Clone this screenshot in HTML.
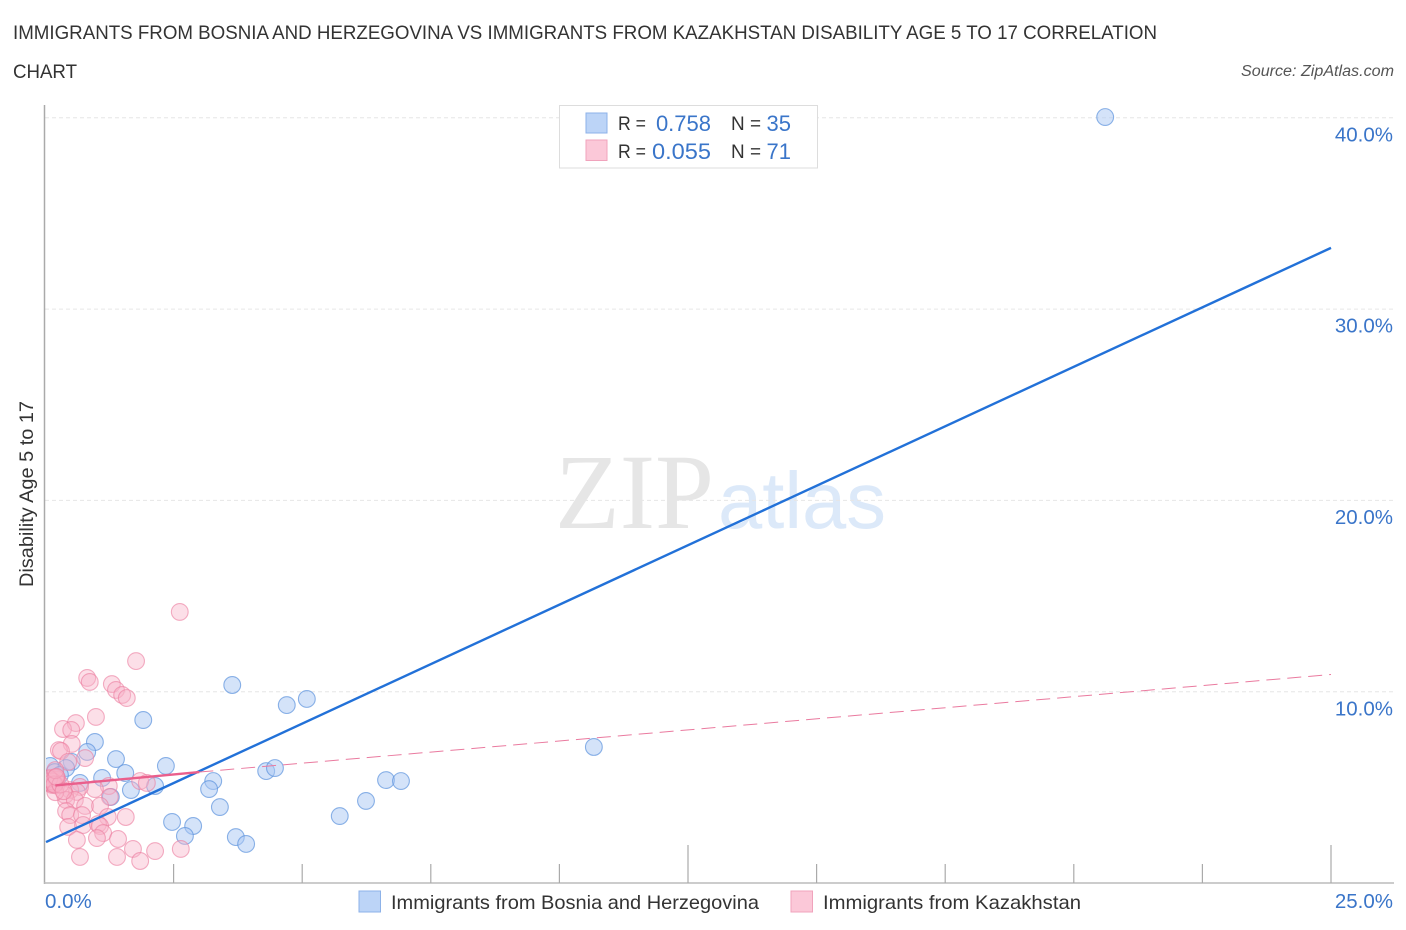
<!DOCTYPE html>
<html lang="en">
<head>
<meta charset="utf-8">
<title>Disability Age 5 to 17 Correlation Chart</title>
<style>
html,body{margin:0;padding:0;background:#fff;}
svg{display:block;font-family:"Liberation Sans",sans-serif;}
</style>
</head>
<body>
<svg id="chart" width="1406" height="930" viewBox="0 0 1406 930" xmlns="http://www.w3.org/2000/svg">
  <defs>
    <clipPath id="plot-clip"><rect x="46" y="100" width="1350" height="783"/></clipPath>
  </defs>
  <text x="13" y="39" font-size="19" fill="#333" textLength="1144" lengthAdjust="spacingAndGlyphs">IMMIGRANTS FROM BOSNIA AND HERZEGOVINA VS IMMIGRANTS FROM KAZAKHSTAN DISABILITY AGE 5 TO 17 CORRELATION</text>
  <text x="13" y="78" font-size="19" fill="#333" textLength="64" lengthAdjust="spacingAndGlyphs">CHART</text>
  <text x="1394" y="76" font-size="15.5" font-style="italic" fill="#555" text-anchor="end" textLength="153" lengthAdjust="spacingAndGlyphs">Source: ZipAtlas.com</text>

  <g>
    <text x="555" y="528" font-family="'Liberation Serif',serif" font-size="107" fill="#e6e6e6" textLength="159" lengthAdjust="spacingAndGlyphs">ZIP</text>
    <text x="718" y="528" font-size="80" fill="#dce9f9" textLength="168" lengthAdjust="spacingAndGlyphs">atlas</text>
  </g>

  <g id="grid"></g>
  <g id="axes"></g>
  <g id="series-blue" clip-path="url(#plot-clip)"></g>
  <g id="series-pink" clip-path="url(#plot-clip)"></g>
  <g id="trends"></g>

  <text transform="translate(33,494) rotate(-90)" font-size="19" fill="#333" text-anchor="middle" textLength="186" lengthAdjust="spacingAndGlyphs">Disability Age 5 to 17</text>

  <g>
    <rect x="559.5" y="105.5" width="258" height="62.5" fill="#fff" stroke="#ddd" stroke-width="1"/>
    <rect x="586" y="113" width="21" height="20" fill="#bcd4f7" stroke="#8db2e8"/>
    <text x="618" y="130" font-size="19.5" fill="#333" textLength="28" lengthAdjust="spacingAndGlyphs">R =</text>
    <text x="711" y="131" font-size="22" fill="#3a75c9" text-anchor="end">0.758</text>
    <text x="731" y="130" font-size="19.5" fill="#333" textLength="30" lengthAdjust="spacingAndGlyphs">N =</text>
    <text x="791" y="131" font-size="22" fill="#3a75c9" text-anchor="end">35</text>
    <rect x="586" y="140" width="21" height="20.5" fill="#fbc8d8" stroke="#f0a3bc"/>
    <text x="618" y="158" font-size="19.5" fill="#333" textLength="28" lengthAdjust="spacingAndGlyphs">R =</text>
    <text x="711" y="159" font-size="22" fill="#3a75c9" text-anchor="end" textLength="59" lengthAdjust="spacingAndGlyphs">0.055</text>
    <text x="731" y="158" font-size="19.5" fill="#333" textLength="30" lengthAdjust="spacingAndGlyphs">N =</text>
    <text x="791" y="159" font-size="22" fill="#3a75c9" text-anchor="end">71</text>
  </g>

  <g>
    <rect x="359" y="891" width="21.5" height="21" fill="#bcd4f7" stroke="#8db2e8"/>
    <text x="391" y="909" font-size="19.5" fill="#333" textLength="368" lengthAdjust="spacingAndGlyphs">Immigrants from Bosnia and Herzegovina</text>
    <rect x="791" y="891" width="21.5" height="21" fill="#fbc8d8" stroke="#f0a3bc"/>
    <text x="823" y="909" font-size="19.5" fill="#333" textLength="258" lengthAdjust="spacingAndGlyphs">Immigrants from Kazakhstan</text>
  </g>
</svg>

<script>
var xTickValues = [2.5, 5, 7.5, 10, 12.5, 15, 17.5, 20, 22.5, 25];
var xMajorTicks = [12.5, 25];
var xEndLabels = ['0.0%', '25.0%'];
var xEndValues = [0, 25];
var yTickValues = [10, 20, 30, 40];
var yTickLabels = ['10.0%', '20.0%', '30.0%', '40.0%'];

var bosniaX = [20.61,10.67,3.64,4.70,5.09,1.91,0.97,0.82,1.38,2.35,1.56,1.11,0.68,1.67,2.14,1.28,3.27,3.19,4.30,4.47,6.63,6.92,6.24,5.73,3.40,2.47,2.88,2.72,3.71,3.91,0.52,0.41,0.10,0.19,0.29];
var bosniaY = [40.04,7.11,10.35,9.30,9.62,8.52,7.37,6.85,6.48,6.12,5.75,5.49,5.23,4.86,5.07,4.50,5.33,4.91,5.85,6.01,5.38,5.33,4.29,3.50,3.97,3.19,2.98,2.46,2.40,2.04,6.33,6.01,6.12,5.80,5.65];

var kazakhstanX = [2.62,1.77,0.82,0.87,1.30,1.38,1.50,1.59,0.99,0.60,0.35,0.51,0.52,0.27,0.31,0.78,0.45,0.10,0.14,0.17,0.10,0.16,0.21,0.23,0.14,0.19,0.23,0.12,0.22,1.85,1.98,1.24,0.97,0.68,0.49,0.62,1.26,0.39,0.41,0.58,0.78,1.07,0.41,0.49,0.72,1.22,1.57,0.45,0.74,1.03,1.07,1.13,1.42,1.01,0.62,1.71,2.14,2.64,0.68,1.40,1.85,0.12,0.20,0.15,0.08,0.20,0.18,0.30,0.36,0.20,0.22];
var kazakhstanY = [14.17,11.60,10.72,10.51,10.40,10.09,9.83,9.67,8.68,8.36,8.05,8.00,7.27,6.95,6.90,6.53,6.33,5.50,5.45,5.35,5.20,5.15,5.30,5.50,5.12,5.15,5.40,5.35,5.10,5.33,5.23,5.07,4.91,5.02,4.86,4.76,4.50,4.60,4.34,4.34,4.03,4.03,3.76,3.55,3.55,3.45,3.45,2.93,3.03,3.08,2.98,2.61,2.30,2.35,2.25,1.78,1.67,1.78,1.36,1.36,1.15,5.20,5.50,5.30,5.45,4.75,5.15,5.15,4.80,5.90,5.55];

var bosniaTrendX = [0.02, 25];
var bosniaTrendY = [2.14, 33.2];
var kazakhstanSolidX = [0.2, 3];
var kazakhstanSolidY = [5.1, 5.8];
var kazakhstanDashX = [3, 25];
var kazakhstanDashY = [5.8, 10.9];

var NS = 'http://www.w3.org/2000/svg';
function xScale(v){ return 45 + v * 51.44; }
function yScale(v){ return 883 - v * 19.13; }
function make(tag, attrs, parent){
  var el = document.createElementNS(NS, tag);
  for (var k in attrs) el.setAttribute(k, attrs[k]);
  parent.appendChild(el);
  return el;
}

var grid = document.getElementById('grid');
var axes = document.getElementById('axes');
var blue = document.getElementById('series-blue');
var pink = document.getElementById('series-pink');
var trends = document.getElementById('trends');

yTickValues.forEach(function(v, i){
  var line = make('line', {x1:45, x2:1393, y1:yScale(v), y2:yScale(v), stroke:'#e6e6e6', 'stroke-width':1, 'stroke-dasharray':'4 3'}, grid);
  
  
  var label = make('text', {x:1393, y:yScale(v) + 23.6, 'font-size':20.5, fill:'#3a75c9', 'text-anchor':'end'}, axes);
  
  
  label.textContent = yTickLabels[i];
});

var yAxisLine = make('line', {x1:44.5, x2:44.5, y1:105, y2:884, stroke:'#aaa', 'stroke-width':1.5}, axes);


var xAxisLine = make('line', {x1:44, x2:1394, y1:883, y2:883, stroke:'#bbb', 'stroke-width':1.5}, axes);



xTickValues.forEach(function(v){
  var major = xMajorTicks.indexOf(v) >= 0;
  var tick = make('line', {x1:xScale(v), x2:xScale(v), y1:major ? 845 : 864, y2:883, stroke:'#aaa', 'stroke-width':1.2}, axes);
  
  
});

xEndValues.forEach(function(v, i){
  var label = make('text', {x: i === 0 ? xScale(v) : 1393, y:908, 'font-size':20.5, fill:'#3a75c9', 'text-anchor': i === 0 ? 'start' : 'end'}, axes);
  
  
  label.textContent = xEndLabels[i];
});

bosniaX.forEach(function(v, i){
  var c = make('circle', {cx:xScale(v), cy:yScale(bosniaY[i]), r:8.4, fill:'#a9c8f3', 'fill-opacity':0.5, stroke:'#5d93dd', 'stroke-opacity':0.7, 'stroke-width':1.1}, blue);
  
  
});

kazakhstanX.forEach(function(v, i){
  var c = make('circle', {cx:xScale(v), cy:yScale(kazakhstanY[i]), r:8.4, fill:'#f9b3c9', 'fill-opacity':0.42, stroke:'#ec7ea0', 'stroke-opacity':0.62, 'stroke-width':1.1}, pink);
  
  
});

var blueTrend = make('line', {x1:xScale(bosniaTrendX[0]), y1:yScale(bosniaTrendY[0]), x2:xScale(bosniaTrendX[1]), y2:yScale(bosniaTrendY[1]), stroke:'#2271d8', 'stroke-width':2.4}, trends);


var pinkSolid = make('line', {x1:xScale(kazakhstanSolidX[0]), y1:yScale(kazakhstanSolidY[0]), x2:xScale(kazakhstanSolidX[1]), y2:yScale(kazakhstanSolidY[1]), stroke:'#ea5f8c', 'stroke-width':2.4}, trends);


var pinkDash = make('line', {x1:xScale(kazakhstanDashX[0]), y1:yScale(kazakhstanDashY[0]), x2:xScale(kazakhstanDashX[1]), y2:yScale(kazakhstanDashY[1]), stroke:'#ea7a9f', 'stroke-width':1, 'stroke-dasharray':'14 7'}, trends);


</script>
</body>
</html>
